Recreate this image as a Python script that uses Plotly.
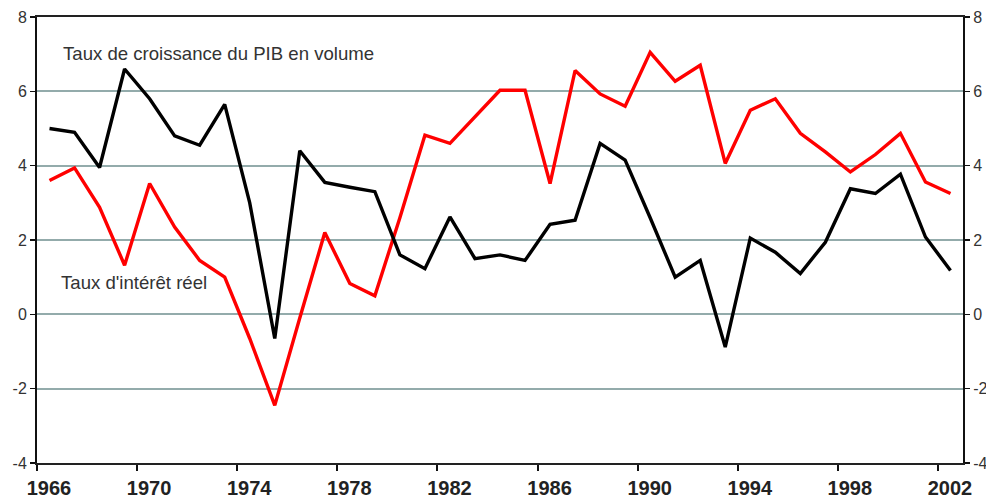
import plotly.graph_objects as go

years = list(range(1966, 2003))
pib = [5.0, 4.9, 3.95, 6.6, 5.8, 4.8, 4.55, 5.65, 3.0, -0.65,
       4.4, 3.55, 3.42, 3.3, 1.6, 1.23, 2.62, 1.5, 1.6, 1.45,
       2.42, 2.53, 4.6, 4.15, 2.6, 1.0, 1.45, -0.88, 2.05, 1.67,
       1.1, 1.94, 3.38, 3.25, 3.77, 2.08, 1.18]
taux_reel = [3.6, 3.94, 2.88, 1.32, 3.52, 2.35, 1.45, 1.0, -0.65, -2.45,
             -0.1, 2.2, 0.83, 0.5, 2.6, 4.82, 4.6, 5.3, 6.03, 6.03,
             3.52, 6.56, 5.93, 5.6, 7.05, 6.27, 6.7, 4.06, 5.49, 5.8,
             4.87, 4.37, 3.83, 4.3, 4.87, 3.56, 3.25]
tick_years = list(range(1966, 2003, 4))
y_ticks = [-4, -2, 0, 2, 4, 6, 8]
y_tick_text = ["-4", "-2", "0", "2", "4", "6", "8"]

label_pib = "Taux de croissance du PIB en volume"
label_taux = "Taux d'intérêt réel"

# categories: each year occupies [year, year+1); point drawn at the centre
xc = [y + 0.5 for y in years]

FONT = "Liberation Sans, Arial, sans-serif"
GRID = "#93abab"

fig = go.Figure()
fig.add_trace(go.Scatter(x=xc, y=taux_reel, mode="lines",
                         line=dict(color="#ff0000", width=3.4),
                         showlegend=False, hoverinfo="skip"))
fig.add_trace(go.Scatter(x=xc, y=pib, mode="lines",
                         line=dict(color="#000000", width=3.4),
                         showlegend=False, hoverinfo="skip"))
# invisible trace to activate right axis
fig.add_trace(go.Scatter(x=xc, y=pib, yaxis="y2", mode="lines",
                         line=dict(width=0), opacity=0,
                         showlegend=False, hoverinfo="skip"))

fig.add_annotation(x=1967.0, y=7.02, xref="x", yref="y", text=label_pib,
                   showarrow=False, xanchor="left", yanchor="middle",
                   borderpad=0,
                   font=dict(family=FONT, size=18.6, color="#333333"))
fig.add_annotation(x=1966.92, y=0.85, xref="x", yref="y", text=label_taux,
                   showarrow=False, xanchor="left", yanchor="middle",
                   borderpad=0,
                   font=dict(family=FONT, size=18.6, color="#333333"))

fig.update_layout(
    width=986, height=503,
    margin=dict(l=37, r=23, t=17, b=40, autoexpand=False),
    paper_bgcolor="white", plot_bgcolor="white",
    hovermode=False,
    xaxis=dict(range=[1966, 2003], tickmode="array",
               tickvals=tick_years, ticktext=[str(t) for t in tick_years],
               ticklabelshift=12, automargin=False,
               ticks="outside", ticklen=6, tickwidth=2, tickcolor="#111",
               showline=True, linecolor="#222", linewidth=2, mirror=True,
               showgrid=False, zeroline=False,
               tickfont=dict(family=FONT, size=20, color="#222222",
                             weight="bold")),
    yaxis=dict(range=[-4, 8], tickmode="array", tickvals=y_ticks,
               ticktext=y_tick_text, automargin=False,
               ticks="outside", ticklen=5, tickwidth=1.5, tickcolor="#111",
               showline=True, linecolor="#111", linewidth=2,
               showgrid=True, gridcolor=GRID, gridwidth=2,
               zeroline=False,
               tickfont=dict(family=FONT, size=16, color="#333333")),
    yaxis2=dict(range=[-4, 8], tickmode="array", tickvals=y_ticks,
                ticktext=y_tick_text, automargin=False,
                overlaying="y", side="right",
                ticks="outside", ticklen=5, tickwidth=1.5, tickcolor="#111",
                showline=True, linecolor="#111", linewidth=2,
                showgrid=False, zeroline=False,
                tickfont=dict(family=FONT, size=16, color="#333333")),
)

fig.write_html("out.html",
               config={"displayModeBar": False, "staticPlot": True},
               post_script="document.body.style.margin='0';"
                           "document.body.style.overflow='hidden';")
